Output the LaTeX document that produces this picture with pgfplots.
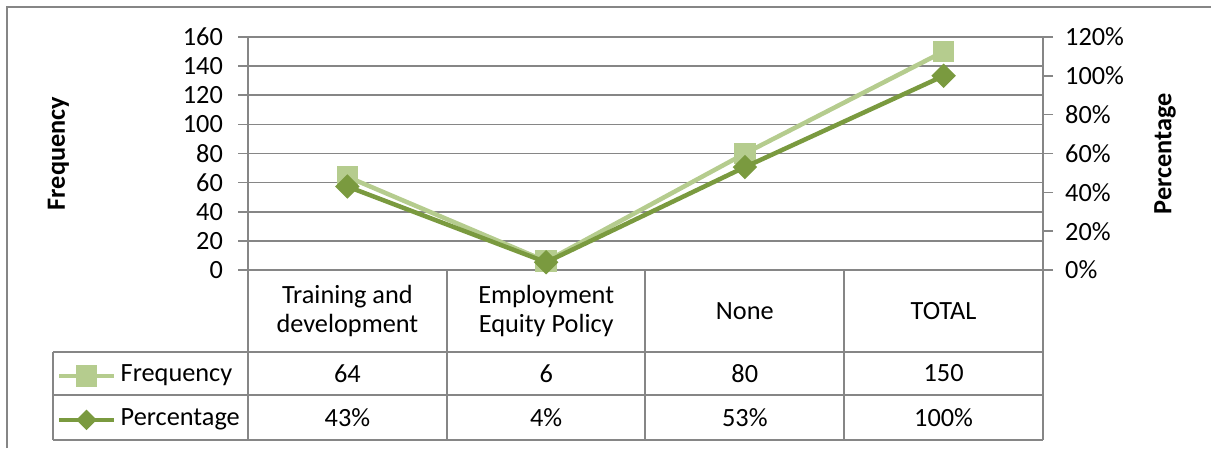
\documentclass[border=0pt]{standalone}
\usepackage{fontspec}
\setmainfont{Carlito}
\usepackage{pgfplots}
\pgfplotsset{compat=1.18}
\definecolor{freqc}{RGB}{181,204,142}
\definecolor{pctc}{RGB}{122,154,63}
\definecolor{gridc}{RGB}{134,134,134}
\pgfplotsset{
  legend image code/.code={\draw[mark repeat=2,mark phase=2,#1] plot coordinates {(0bp,0bp)(13.75bp,0bp)(27.5bp,0bp)};},
}
\begin{document}
\fontsize{13.2}{14.5}\selectfont
\begin{tikzpicture}[x=1bp,y=1bp]
\path[use as bounding box] (0,0) rectangle (605.5,224);
\draw[gridc, line width=1bp] (3.5,0) -- (3.5,220.5) -- (605.5,220.5);
\begin{axis}[
  at={(124bp,89bp)}, anchor=south west,
  width=397.5bp, height=116.5bp, scale only axis,
  xmin=-0.5, xmax=3.5, ymin=0, ymax=160,
  ytick={0,20,...,160}, xtick=\empty,
  ytick pos=left, tick align=outside, major tick length=5bp,
  ymajorgrids, grid style={gridc, line width=0.8bp},
  axis line style={gridc, line width=0.8bp},
  tick style={gridc, line width=0.8bp},
  /pgf/number format/assume math mode=true,
  yticklabel style={xshift=-3bp},
  ylabel={Frequency},
  y label style={at={(axis description cs:-0.2385,0.5)}, anchor=center, font=\bfseries},
  clip=false,
  legend style={at={(axis description cs:-0.241,-0.549)}, anchor=west, draw=none, fill=none,
    inner sep=0pt, row sep=12bp,
    nodes={inner sep=0pt, text height=8bp, text depth=2bp}},
  legend cell align=left,
]
\addplot[freqc, line width=2.25bp, mark=square*, mark size=4.3bp, mark options={solid, fill=freqc, draw=freqc}]
  coordinates {(0,64) (1,6) (2,80) (3,150)};
\addlegendentry{\,Frequency}
\addlegendimage{pctc, line width=2.25bp, mark=square*, mark size=2.5bp, mark options={solid, rotate=45, fill=pctc, draw=pctc}}
\addlegendentry{\,Percentage}
\end{axis}
\begin{axis}[
  at={(124bp,89bp)}, anchor=south west,
  width=397.5bp, height=116.5bp, scale only axis,
  xmin=-0.5, xmax=3.5, ymin=0, ymax=120,
  axis y line*=right, axis x line=none,
  ytick={0,20,...,120}, tick align=outside, major tick length=5bp,
  axis line style={gridc, line width=0.8bp},
  tick style={gridc, line width=0.8bp},
  /pgf/number format/assume math mode=true,
  yticklabel={\pgfmathprintnumber{\tick}\%},
  yticklabel style={xshift=1.5bp},
  ylabel={Percentage},
  y label style={at={(axis description cs:1.1535,0.5)}, anchor=center, font=\bfseries},
  clip=false,
]
\addplot[pctc, line width=2.25bp, mark=square*, mark size=3.2bp, mark options={solid, rotate=45, fill=pctc, draw=pctc}]
  coordinates {(0,43) (1,4) (2,53) (3,100)};
\end{axis}
% data table grid
\begin{scope}[gridc, line width=0.8bp]
\draw (26.5,48) -- (521.5,48);
\draw (26.5,26.5) -- (521.5,26.5);
\draw (26.5,4) -- (521.5,4);
\draw (26.5,48) -- (26.5,4);
\draw (124,89) -- (124,4);
\draw (223.5,89) -- (223.5,4);
\draw (322.5,89) -- (322.5,4);
\draw (422,89) -- (422,4);
\draw (521.5,89) -- (521.5,4);
\end{scope}
\node[align=center] at (173.7,68.5) {Training and\\development};
\node[align=center] at (273.1,68.5) {Employment\\Equity Policy};
\node at (372.4,68.5) {None};
\node at (471.8,68.5) {TOTAL};
\node at (173.7,37.25) {64};
\node at (273.1,37.25) {6};
\node at (372.4,37.25) {80};
\node at (471.8,37.25) {150};
\node at (173.7,15.25) {43\%};
\node at (273.1,15.25) {4\%};
\node at (372.4,15.25) {53\%};
\node at (471.8,15.25) {100\%};
\end{tikzpicture}
\end{document}
